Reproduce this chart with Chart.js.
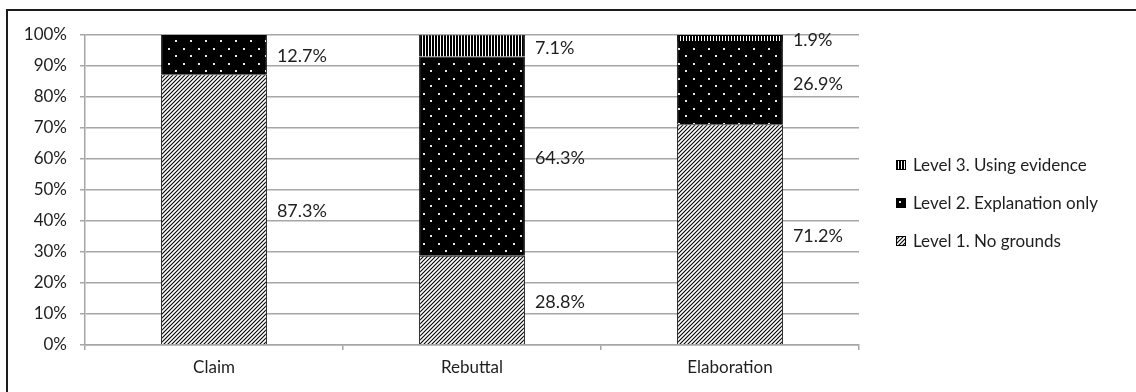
<!DOCTYPE html>
<html>
<head>
<meta charset="utf-8">
<script src="https://cdn.jsdelivr.net/npm/chart.js@4"></script>
<style>
  html, body { margin: 0; padding: 0; background: #fff; }
  #wrap { position: relative; width: 1136px; height: 392px; overflow: hidden; }
  #frame {
    position: absolute; left: 6px; top: 9px; right: -4px; bottom: -4px;
    border-top: 2px solid #1c1c1c; border-left: 2px solid #1c1c1c;
    pointer-events: none;
  }
  #legend { position: absolute; left: 896px; top: 0; font-family: Lato, "Open Sans", sans-serif; font-size: 17px; color: #1e1e1e; }
  .item { position: absolute; left: 0; white-space: nowrap; height: 20px; line-height: 20px; }
  .item canvas { position: absolute; left: 0; top: 5px; }
  .item span { position: absolute; left: 17px; top: 0; }
</style>
</head>
<body>
<div id="wrap">
  <canvas id="chart" width="1136" height="392"></canvas>
  <div id="frame"></div>
  <div id="legend"></div>
</div>

<script>
// ===============================
// DATA
// ===============================

const categories = ["Claim", "Rebuttal", "Elaboration"];

const seriesNames = [
  "Level 1. No grounds",
  "Level 2. Explanation only",
  "Level 3. Using evidence"
];

const level1 = [87.3, 28.8, 71.2];
const level2 = [12.7, 64.3, 26.9];
const level3 = [0, 7.1, 1.9];

const yTicks = [0, 10, 20, 30, 40, 50, 60, 70, 80, 90, 100];

// ===============================
// PATTERNS
// ===============================

function makeTile(w, h, paint) {
  const c = document.createElement("canvas");
  c.width = w;
  c.height = h;
  paint(c.getContext("2d"));
  return c;
}

// diagonal hatch, black on white
const hatchTile = makeTile(4, 4, g => {
  g.fillStyle = "#fff";
  g.fillRect(0, 0, 4, 4);
  g.strokeStyle = "#000";
  g.lineWidth = 1.1;
  g.beginPath();
  g.moveTo(-1, 5); g.lineTo(5, -1);
  g.moveTo(-1, 1); g.lineTo(1, -1);
  g.moveTo(3, 5); g.lineTo(5, 3);
  g.stroke();
});

// black with white dots
const dotTile = makeTile(15, 15, g => {
  g.fillStyle = "#000";
  g.fillRect(0, 0, 15, 15);
  g.fillStyle = "#e8e8e8";
  g.fillRect(3, 3, 2, 2);
  g.fillRect(10, 10, 2, 2);
});

// vertical stripes
const stripeTile = makeTile(3, 3, g => {
  g.fillStyle = "#fff";
  g.fillRect(0, 0, 3, 3);
  g.fillStyle = "#000";
  g.fillRect(0, 0, 2, 3);
});

const ctx = document.getElementById("chart").getContext("2d");
const fills = [
  ctx.createPattern(hatchTile, "repeat"),
  ctx.createPattern(dotTile, "repeat"),
  ctx.createPattern(stripeTile, "repeat")
];
const seriesData = [level1, level2, level3];

// ===============================
// LABELS PLUGIN
// ===============================

const segmentLabels = {
  id: "segmentLabels",
  afterDatasetsDraw(chart) {
    const c = chart.ctx;
    c.save();
    c.font = "18px Lato, 'Open Sans', sans-serif";
    c.fillStyle = "#1e1e1e";
    c.textAlign = "left";
    c.textBaseline = "middle";
    chart.data.datasets.forEach((ds, i) => {
      const meta = chart.getDatasetMeta(i);
      meta.data.forEach((bar, j) => {
        const v = ds.data[j];
        if (!v) return;
        const top = Math.max(bar.y, chart.chartArea.top);
        const y = (top + bar.base) / 2 + 2;
        c.fillText(v.toFixed(1) + "%", bar.x + bar.width / 2 + 10, y);
      });
    });
    c.restore();
  }
};

const gridColor = "#a6a6a6";
const tickFont = { family: "Lato, 'Open Sans', sans-serif", size: 17 };

new Chart(ctx, {
  type: "bar",
  data: {
    labels: categories,
    datasets: seriesNames.map((name, i) => ({
      label: name,
      data: seriesData[i],
      backgroundColor: fills[i],
      borderColor: "#000",
      borderWidth: 1,
      barPercentage: 0.41,
      categoryPercentage: 1
    }))
  },
  options: {
    responsive: false,
    animation: false,
    layout: { padding: { left: 0, top: 35, right: 277, bottom: 0 } },
    plugins: {
      legend: { display: false },
      tooltip: { enabled: false }
    },
    scales: {
      x: {
        stacked: true,
        afterFit(s) { s.height = 47; },
        grid: {
          offset: true,
          drawOnChartArea: false,
          drawTicks: true,
          tickLength: 5,
          color: gridColor,
          lineWidth: 1.5
        },
        border: { color: gridColor, width: 1.5 },
        ticks: { color: "#1e1e1e", font: tickFont, padding: 7 }
      },
      y: {
        stacked: true,
        min: 0,
        max: 100,
        afterFit(s) { s.width = 85; },
        afterBuildTicks(s) { s.ticks = yTicks.map(v => ({ value: v })); },
        grid: { color: gridColor, lineWidth: 1.5, tickLength: 5 },
        border: { color: gridColor, width: 1.5 },
        ticks: {
          color: "#1e1e1e",
          font: tickFont,
          padding: 13,
          callback: v => v + "%"
        }
      }
    }
  },
  plugins: [segmentLabels]
});

// ===============================
// LEGEND (reversed, like the original)
// ===============================

const legend = document.getElementById("legend");
const legendY = [165, 203, 241];
[2, 1, 0].forEach((idx, k) => {
  const item = document.createElement("div");
  item.className = "item";
  item.style.top = (legendY[k] - 10) + "px";
  const sw = document.createElement("canvas");
  sw.width = 10;
  sw.height = 10;
  const g = sw.getContext("2d");
  g.fillStyle = g.createPattern([hatchTile, dotTile, stripeTile][idx], "repeat");
  g.fillRect(0, 0, 10, 10);
  g.strokeStyle = "#000";
  g.lineWidth = 1;
  g.strokeRect(0.5, 0.5, 9, 9);
  const txt = document.createElement("span");
  txt.textContent = seriesNames[idx];
  item.appendChild(sw);
  item.appendChild(txt);
  legend.appendChild(item);
});
</script>
</body>
</html>
